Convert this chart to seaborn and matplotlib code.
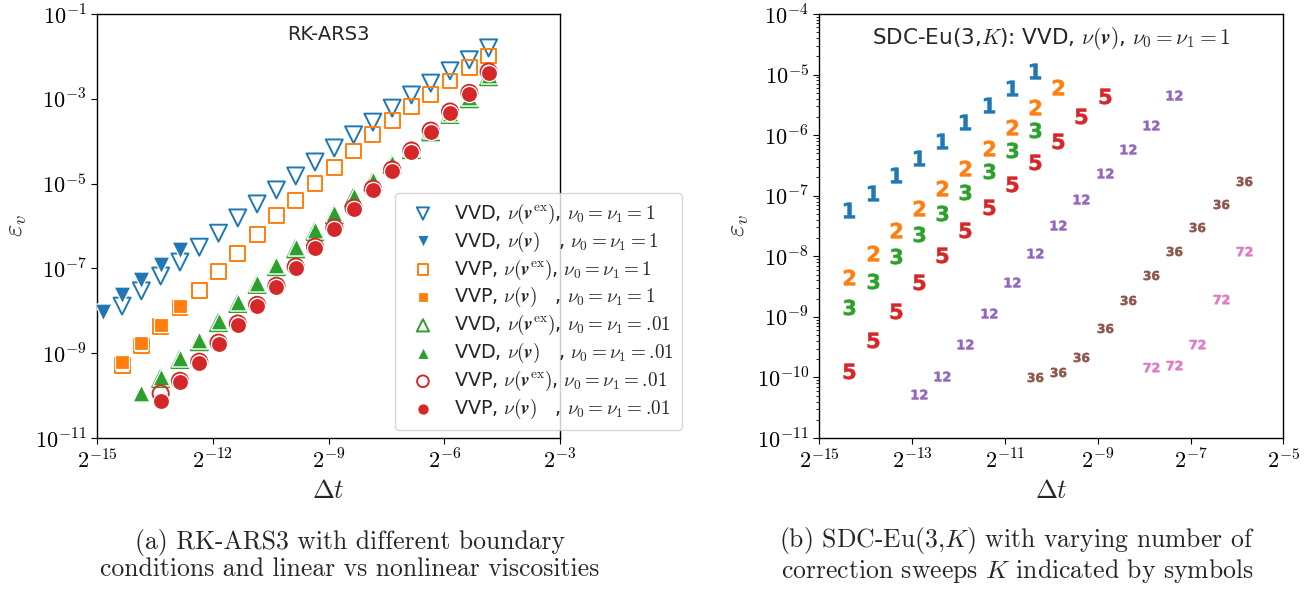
import numpy as np
import pandas as pd
import matplotlib
matplotlib.use("Agg")
import matplotlib.pyplot as plt
import matplotlib.ticker as mticker
import seaborn as sns

# ---------------- data (log2 of dt, log10 of error) ----------------
DT_LOG2 = [-14.85, -14.35, -13.85, -13.35, -12.85, -12.35, -11.85, -11.35,
           -10.85, -10.35, -9.85, -9.35, -8.85, -8.35, -7.85, -7.35, -6.85,
           -6.35, -5.85, -5.35, -4.85]

# panel (a): RK-ARS3  (start index into DT_LOG2, log10 errors)
vvd_ex_1_start = 1
vvd_ex_1 = [-7.89, -7.53, -7.18, -6.85, -6.50, -6.17, -5.81, -5.48, -5.15, -4.82,
            -4.49, -4.16, -3.85, -3.55, -3.22, -2.91, -2.63, -2.34, -2.08, -1.80]
vvd_nl_1_start = 0
vvd_nl_1 = [-8.03, -7.63, -7.27, -6.92, -6.57]
vvp_ex_1_start = 1
vvp_ex_1 = [-9.28, -8.83, -8.38, -7.93, -7.53, -7.08, -6.64, -6.21, -5.76, -5.39,
            -4.99, -4.61, -4.23, -3.85, -3.52, -3.19, -2.89, -2.58, -2.27, -1.99]
vvp_nl_1_start = 1
vvp_nl_1 = [-9.21, -8.76, -8.33, -7.89]
vvd_ex_01_start = 3
vvd_ex_01 = [-9.60, -9.15, -8.73, -8.28, -7.83, -7.38, -6.96, -6.54, -6.13, -5.73,
             -5.33, -4.96, -4.55, -4.20, -3.78, -3.37, -3.00, -2.48]
vvd_nl_01_start = 2
vvd_nl_01 = [-9.94, -9.56, -9.11, -8.69, -8.24, -7.79, -7.34, -6.92, -6.50, -6.09,
             -5.69, -5.29, -4.92, -4.51, -4.16, -3.74, -3.33, -2.96, -2.44]
vvp_ex_01_start = 3
vvp_ex_01 = [-9.95, -9.65, -9.20, -8.75, -8.30, -7.86, -7.41, -6.96, -6.49, -6.04,
             -5.57, -5.12, -4.67, -4.22, -3.75, -3.30, -2.86, -2.36]
vvp_nl_01_start = 3
vvp_nl_01 = [-10.13, -9.68, -9.23, -8.78, -8.33, -7.89, -7.44, -6.99, -6.52, -6.07,
             -5.60, -5.15, -4.70, -4.25, -3.78, -3.33, -2.89, -2.39]

LABELS_A = [
    r"VVD, $\nu(\mathbfit{v}^{\rm ex})$, $\nu_0=\nu_1=1$",
    r"VVD, $\nu(\mathbfit{v})$   , $\nu_0=\nu_1=1$",
    r"VVP, $\nu(\mathbfit{v}^{\rm ex})$, $\nu_0=\nu_1=1$",
    r"VVP, $\nu(\mathbfit{v})$   , $\nu_0=\nu_1=1$",
    r"VVD, $\nu(\mathbfit{v}^{\rm ex})$, $\nu_0=\nu_1=.\!01$",
    r"VVD, $\nu(\mathbfit{v})$   , $\nu_0=\nu_1=.\!01$",
    r"VVP, $\nu(\mathbfit{v}^{\rm ex})$, $\nu_0=\nu_1=.\!01$",
    r"VVP, $\nu(\mathbfit{v})$   , $\nu_0=\nu_1=.\!01$",
]

# panel (b): SDC-Eu(3,K)
K_LABELS = ["1", "2", "3", "5", "12", "36", "72"]
K_START = [1, 1, 1, 1, 4, 9, 14]
sdc_k1 = [-7.24, -6.95, -6.66, -6.37, -6.09, -5.79, -5.51, -5.22, -4.94]
sdc_k2 = [-8.35, -7.94, -7.57, -7.21, -6.88, -6.54, -6.21, -5.87, -5.53, -5.20]
sdc_k3 = [-8.84, -8.40, -8.00, -7.63, -7.28, -6.94, -6.60, -6.25, -5.91]
sdc_k5 = [-9.89, -9.38, -8.91, -8.43, -7.98, -7.57, -7.18, -6.80, -6.44, -6.10,
          -5.69, -5.36]
sdc_k12 = [-10.28, -9.97, -9.45, -8.93, -8.42, -7.94, -7.48, -7.05, -6.62, -6.23,
           -5.84, -5.33]
sdc_k36 = [-9.99, -9.91, -9.67, -9.19, -8.72, -8.31, -7.91, -7.51, -7.13, -6.76]
sdc_k72 = [-9.82, -9.79, -9.45, -8.71, -7.91]
SDC = [sdc_k1, sdc_k2, sdc_k3, sdc_k5, sdc_k12, sdc_k36, sdc_k72]

# ---------------- style ----------------
sns.set_style("ticks")
plt.rcParams.update({
    "font.family": ["DejaVu Sans"],
    "mathtext.fontset": "cm",
    "axes.edgecolor": "black",
    "axes.linewidth": 1.0,
    "xtick.color": "black",
    "ytick.color": "black",
    "xtick.major.size": 4,
    "ytick.major.size": 4,
    "ytick.minor.size": 2,
    "xtick.labelsize": 16,
    "ytick.labelsize": 16,
})
pal = sns.color_palette("tab10")

fig = plt.figure(figsize=(13.14, 5.9), dpi=100)
axA = fig.add_axes([97 / 1314, 1 - 438 / 590, 463 / 1314, 424 / 590])
axB = fig.add_axes([819.3 / 1314, 1 - 438 / 590, 464 / 1314, 424 / 590])


def frame(start, vals):
    xs = np.array(DT_LOG2[start:start + len(vals)])
    return pd.DataFrame({"dt": 2.0 ** xs, "err": 10.0 ** np.array(vals)})


def draw(ax, start, vals, marker, color, filled, label, s):
    df = frame(start, vals)
    if filled:
        sns.scatterplot(data=df, x="dt", y="err", marker=marker, color=color,
                        s=s, ax=ax, label=label, zorder=3)
    else:
        sns.scatterplot(data=df, x="dt", y="err", marker=marker,
                        facecolors="none", edgecolor=color, linewidth=1.4,
                        s=s, ax=ax, label=label, zorder=3)


series_a = [
    (vvd_ex_1_start, vvd_ex_1, "v", pal[0], False, 150),
    (vvd_nl_1_start, vvd_nl_1, "v", pal[0], True, 150),
    (vvp_ex_1_start, vvp_ex_1, "s", pal[1], False, 115),
    (vvp_nl_1_start, vvp_nl_1, "s", pal[1], True, 115),
    (vvd_ex_01_start, vvd_ex_01, "^", pal[2], False, 150),
    (vvd_nl_01_start, vvd_nl_01, "^", pal[2], True, 150),
    (vvp_ex_01_start, vvp_ex_01, "o", pal[3], False, 135),
    (vvp_nl_01_start, vvp_nl_01, "o", pal[3], True, 135),
]
for (st, vals, m, c, f, s), lab in zip(series_a, LABELS_A):
    draw(axA, st, vals, m, c, f, lab, s)

pow2_fmt = mticker.FuncFormatter(lambda v, p: r"$2^{%d}$" % int(round(np.log2(v))))
pow10_fmt = mticker.FuncFormatter(lambda v, p: r"$10^{%d}$" % int(round(np.log10(v))))

axA.set_xscale("log", base=2)
axA.set_yscale("log")
axA.set_xlim(2.0 ** -15, 2.0 ** -3)
axA.set_ylim(1e-11, 1e-1)
axA.xaxis.set_major_locator(mticker.FixedLocator(2.0 ** np.arange(-15, -2, 3)))
axA.xaxis.set_major_formatter(pow2_fmt)
axA.xaxis.set_minor_locator(mticker.NullLocator())
axA.yaxis.set_major_locator(mticker.FixedLocator(10.0 ** np.arange(-11, 0, 2)))
axA.yaxis.set_major_formatter(pow10_fmt)
axA.yaxis.set_minor_locator(mticker.NullLocator())
axA.set_xlabel(r"$\Delta t$", fontsize=19)
axA.set_ylabel(r"$\varepsilon_v$", fontsize=19)
axA.text(0.5, 0.975, "RK-ARS3", transform=axA.transAxes, ha="center", va="top",
         fontsize=14)
axA.legend(loc="lower right", bbox_to_anchor=(1.2635, 0.019), borderaxespad=0.0,
           fontsize=13.8, markerscale=0.72, labelspacing=0.2, borderpad=0.45,
           handletextpad=0.6, handlelength=2.0)

# panel (b)
for lab, st, vals, c in zip(K_LABELS, K_START, SDC,
                            [pal[0], pal[1], pal[2], pal[3], pal[4], pal[5], pal[6]]):
    df = frame(st, vals)
    with plt.rc_context({"font.weight": "bold"}):
        sns.scatterplot(data=df, x="dt", y="err",
                        marker=r"$\mathdefault{%s}$" % lab, color=c, s=125,
                        edgecolor="face", linewidth=0.4, ax=axB, zorder=3)

axB.set_xscale("log", base=2)
axB.set_yscale("log")
axB.set_xlim(2.0 ** -15, 2.0 ** -5)
axB.set_ylim(1e-11, 1e-4)
axB.xaxis.set_major_locator(mticker.FixedLocator(2.0 ** np.arange(-15, -4, 2)))
axB.xaxis.set_major_formatter(pow2_fmt)
axB.xaxis.set_minor_locator(mticker.NullLocator())
axB.yaxis.set_major_locator(mticker.FixedLocator(10.0 ** np.arange(-11, -3, 1)))
axB.yaxis.set_major_formatter(pow10_fmt)
axB.yaxis.set_minor_locator(mticker.LogLocator(base=10, subs=np.arange(2, 10), numticks=50))
axB.yaxis.set_minor_formatter(mticker.NullFormatter())
axB.set_xlabel(r"$\Delta t$", fontsize=19)
axB.set_ylabel(r"$\varepsilon_v$", fontsize=19)
axB.text(0.5, 0.975, r"SDC-Eu(3,$K$): VVD, $\nu(\mathbfit{v})$, $\nu_0=\nu_1=1$",
         transform=axB.transAxes, ha="center", va="top", fontsize=15.5)

for ax in (axA, axB):
    for sp in ax.spines.values():
        sp.set_visible(True)
        sp.set_color("black")

fig.text(350 / 1314, 1 - 555 / 590,
         "(a) RK-ARS3 with different boundary\nconditions and linear vs nonlinear viscosities",
         ha="center", va="center", fontsize=18.5, family="cmr10", linespacing=1.08)
fig.text(1017 / 1314, 1 - 555 / 590,
         "(b) SDC-Eu(3,$K$) with varying number of\ncorrection sweeps $K$ indicated by symbols",
         ha="center", va="center", fontsize=18.5, family="cmr10", linespacing=1.08)

fig.savefig("out.png", dpi=100)
